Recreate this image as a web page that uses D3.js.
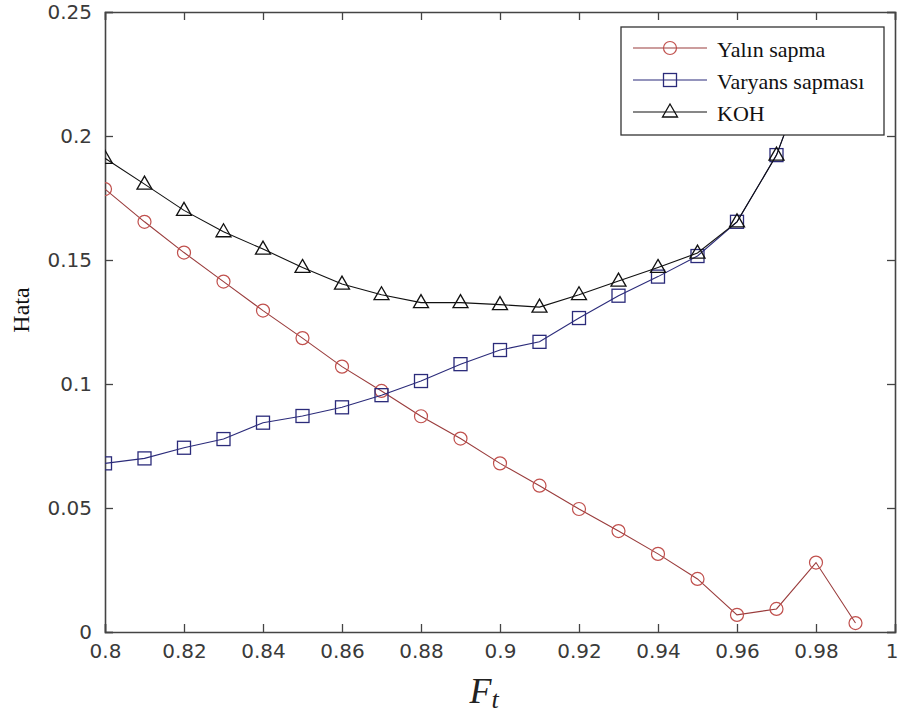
<!DOCTYPE html>
<html><head><meta charset="utf-8">
<script src="https://cdn.jsdelivr.net/npm/d3@7"></script>
<style>body{margin:0;background:#fff}svg{display:block}</style>
</head><body>
<script>
const xValues = [0.80,0.81,0.82,0.83,0.84,0.85,0.86,0.87,0.88,0.89,0.90,0.91,0.92,0.93,0.94,0.95,0.96,0.97,0.98,0.99];
const yalinSapma = [0.1786,0.1654,0.153,0.1413,0.1296,0.1185,0.107,0.0972,0.087,0.078,0.068,0.059,0.0496,0.0407,0.0315,0.0214,0.0069,0.0093,0.028,0.0036];
const varyansSapmasi = [0.068,0.070,0.0743,0.0778,0.0844,0.0871,0.0906,0.0955,0.1012,0.108,0.1137,0.117,0.1266,0.1356,0.1433,0.1516,0.1654,0.1923,0.235];
const koh = [0.191,0.1806,0.170,0.1614,0.1544,0.147,0.1403,0.136,0.1328,0.1328,0.132,0.131,0.136,0.1415,0.147,0.1528,0.1654,0.1923,0.235];
const xTicks = [0.8,0.82,0.84,0.86,0.88,0.9,0.92,0.94,0.96,0.98,1];
const yTicks = [0,0.05,0.1,0.15,0.2,0.25];
const seriesNames = ["Yalın sapma","Varyans sapması","KOH"];

const W=899,H=715;
const L=105,R=895,T=12,B=632;
const svg=d3.select("body").append("svg").attr("width",W).attr("height",H);
const x=d3.scaleLinear().domain([0.8,1]).range([L,R]);
const y=d3.scaleLinear().domain([0,0.25]).range([B,T]);

svg.append("defs").append("clipPath").attr("id","clip").append("rect")
  .attr("x",L).attr("y",T).attr("width",R-L).attr("height",B-T);

const tickFont="'DejaVu Sans', Arial, sans-serif";
const serif="'Liberation Serif','Times New Roman',serif";
const axisColor="#444";

const fmt=d=>d3.format("")(+d.toFixed(2));
const gx=svg.append("g").attr("transform",`translate(0,${B})`)
  .call(d3.axisBottom(x).tickValues(xTicks).tickSize(-8).tickPadding(12).tickFormat(fmt));
const gxt=svg.append("g").attr("transform",`translate(0,${T})`)
  .call(d3.axisTop(x).tickValues(xTicks).tickSize(-8).tickFormat(""));
const gy=svg.append("g").attr("transform",`translate(${L},0)`)
  .call(d3.axisLeft(y).tickValues(yTicks).tickSize(-8).tickPadding(13).tickFormat(fmt));
const gyr=svg.append("g").attr("transform",`translate(${R},0)`)
  .call(d3.axisRight(y).tickValues(yTicks).tickSize(-8).tickFormat(""));
[gx,gxt,gy,gyr].forEach(g=>{
  g.selectAll(".domain").attr("stroke",axisColor).attr("stroke-width",1.6);
  g.selectAll(".tick line").attr("stroke",axisColor).attr("stroke-width",1.3);
  g.selectAll("text").attr("font-family",tickFont).attr("font-size",20).attr("fill","#3a3a3a");
});
gx.selectAll(".tick").filter(d=>d===1).select("text").attr("text-anchor","end").attr("x",3);

const line=d3.line().x((d,i)=>x(xValues[i])).y(d=>y(d));
const plot=svg.append("g").attr("clip-path","url(#clip)");

const series=[
  {name:seriesNames[0],data:yalinSapma,line:"#9a3c3c",mark:"#c0504d",shape:"circle"},
  {name:seriesNames[1],data:varyansSapmasi,line:"#2b2b7a",mark:"#2b2b7a",shape:"square"},
  {name:seriesNames[2],data:koh,line:"#111",mark:"#111",shape:"triangle"}
];
function marker(g,shape,cx,cy,color){
  if(shape==="circle") g.append("circle").attr("cx",cx).attr("cy",cy).attr("r",6.5).attr("fill","none").attr("stroke",color).attr("stroke-width",1.2);
  else if(shape==="square") g.append("rect").attr("x",cx-6.5).attr("y",cy-6.5).attr("width",13).attr("height",13).attr("fill","none").attr("stroke",color).attr("stroke-width",1.3);
  else g.append("path").attr("d",`M${cx},${cy-8}L${cx+7.5},${cy+5}L${cx-7.5},${cy+5}Z`).attr("fill","none").attr("stroke",color).attr("stroke-width",1.3);
}
series.forEach(s=>{
  plot.append("path").datum(s.data).attr("d",line).attr("fill","none").attr("stroke",s.line).attr("stroke-width",1.1);
  s.data.forEach((v,i)=>marker(plot,s.shape,x(xValues[i]),y(v),s.mark));
});

// legend
const lg=svg.append("g");
lg.append("rect").attr("x",621).attr("y",27).attr("width",263).attr("height",108)
  .attr("fill","#fff").attr("stroke","#333").attr("stroke-width",1.3);
const legY=[48,80,112];
series.forEach((s,i)=>{
  const yy=legY[i];
  lg.append("line").attr("x1",633).attr("x2",707).attr("y1",yy).attr("y2",yy).attr("stroke",s.line).attr("stroke-width",1.1);
  marker(lg,s.shape,670,yy,s.mark);
  lg.append("text").attr("x",717).attr("y",yy+9)
    .attr("font-family",serif).attr("font-size",22).attr("fill","#111").text(s.name);
});

// axis labels
svg.append("text").attr("transform","translate(29,310) rotate(-90)").attr("text-anchor","middle")
  .attr("font-family",serif).attr("font-size",24).attr("fill","#111").text("Hata");
const xl=svg.append("text").attr("x",484).attr("y",703).attr("text-anchor","middle")
  .attr("font-family",serif).attr("font-style","italic").attr("fill","#222");
xl.append("tspan").attr("font-size",36).text("F");
xl.append("tspan").attr("font-size",26).attr("dy",5).text("t");
</script>
</body></html>
